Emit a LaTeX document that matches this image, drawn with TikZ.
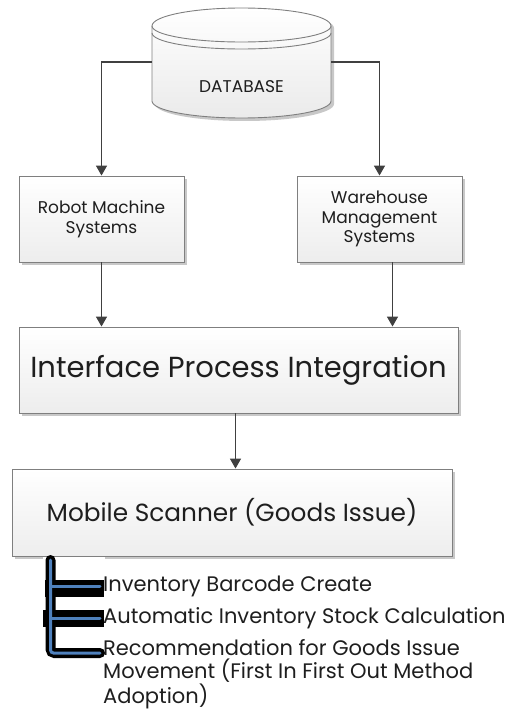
\documentclass[tikz,border=0pt]{standalone}
\usepackage{fontspec}
\setmainfont{Poppins}
\usetikzlibrary{shadows,arrows.meta,calc}
\definecolor{arrowc}{HTML}{404040}
\definecolor{borderc}{HTML}{7F7F7F}
\definecolor{textc}{HTML}{1E1E1E}
\definecolor{shadowc}{HTML}{C8C8C8}
\definecolor{lineblue}{HTML}{4F81BD}
\tikzset{
  box/.style={draw=borderc, line width=0.9pt, top color=white, bottom color=black!7,
    general shadow={fill=shadowc, shadow xshift=3pt, shadow yshift=-3pt},
    align=center, text=textc, inner sep=2pt},
  arr/.style={draw=arrowc, line width=1.6pt, -{Triangle[length=10pt,width=11pt]}},
  item/.style={text=textc, inner sep=0pt, font=\fontsize{21}{23.5}\selectfont},
  blk/.style={black, line width=10pt},
  blu/.style={lineblue, line width=3pt},
}
\begin{document}
\begin{tikzpicture}[x=1pt,y=-1pt]
\useasboundingbox (0,0) rectangle (513,711);
% database cylinder
\fill[shadowc] (155,28) -- (155,104) arc[start angle=180,end angle=0,x radius=89.5,y radius=17] -- (334,28) arc[start angle=0,end angle=-180,x radius=89.5,y radius=17] -- cycle;
\shade[top color=white, bottom color=black!8, draw=borderc, line width=0.9pt] (152,26) -- (152,101) arc[start angle=180,end angle=0,x radius=89.5,y radius=17] -- (331,26) arc[start angle=0,end angle=-180,x radius=89.5,y radius=18] -- cycle;
\draw[borderc, line width=0.9pt] (152,26) arc[start angle=180,end angle=0,x radius=89.5,y radius=16];
\draw[borderc, line width=0.9pt] (152,33) arc[start angle=180,end angle=0,x radius=89.5,y radius=16];
\node[inner sep=0pt, minimum width=179pt, minimum height=108pt] (db) at (241.5,62) {};
\node[text=textc, font=\fontsize{17}{20}\selectfont] (dbl) at (241.5,87) {DATABASE};
% boxes
\node[box, minimum width=165pt, minimum height=86pt, font=\fontsize{17}{19.5}\selectfont] (rm) at (101.5,219) {Robot Machine\\Systems};
\node[box, minimum width=165pt, minimum height=86pt, font=\fontsize{17}{19.5}\selectfont] (wh) at (379.5,219) {Warehouse\\Management\\Systems};
\node[box, minimum width=439pt, minimum height=86pt, font=\fontsize{29}{34}\selectfont] (ipi) at (238.5,370) {Interface Process Integration};
\node[box, minimum width=440pt, minimum height=87pt, font=\fontsize{24.8}{29}\selectfont] (ms) at (232,512.5) {Mobile Scanner (Goods Issue)};
% connectors
\draw[arr] (db.west) -| (rm.north);
\draw[arr] (db.east) -| (wh.north);
\draw[arr] (rm.south) -- (rm.south |- ipi.north);
\draw[arr] ([xshift=13pt]wh.south) -- ([xshift=13pt]wh.south |- ipi.north);
\draw[arr] ([xshift=-3pt]ipi.south) -- ([xshift=-3pt]ipi.south |- ms.north);
% list items
\node[item, anchor=west] (t1) at (103,586) {Inventory Barcode Create};
\node[item, anchor=west] (t2) at (103,618) {Automatic Inventory Stock Calculation};
\node[item, anchor=north west, align=left] (t3) at (103,639) {Recommendation for Goods Issue\\Movement (First In First Out Method\\Adoption)};
% bracket
\coordinate (bt) at (50.5,560);
\coordinate (bb) at (50.5,653);
\coordinate (be) at (100,653);
\fill[white] (43,557) rectangle (105,562);
\fill[black] (45,580) rectangle (104,597);
\fill[black] (43,610) rectangle (104,627);
\draw[blk, line cap=round, rounded corners=4pt] (bt) -- (bb) -- (be);
\draw[blk] (bt |- t1.west) -- ([xshift=-3pt]t1.west);
\draw[blk] (bt |- t2.west) -- ([xshift=-3pt]t2.west);
\draw[blu, line cap=round, rounded corners=3pt] (bt) -- (bb) -- (be);
\draw[blu, line cap=round] (bt |- t1.west) -- ([xshift=-3pt]t1.west);
\draw[blu, line cap=round] (bt |- t2.west) -- ([xshift=-3pt]t2.west);
\end{tikzpicture}
\end{document}
